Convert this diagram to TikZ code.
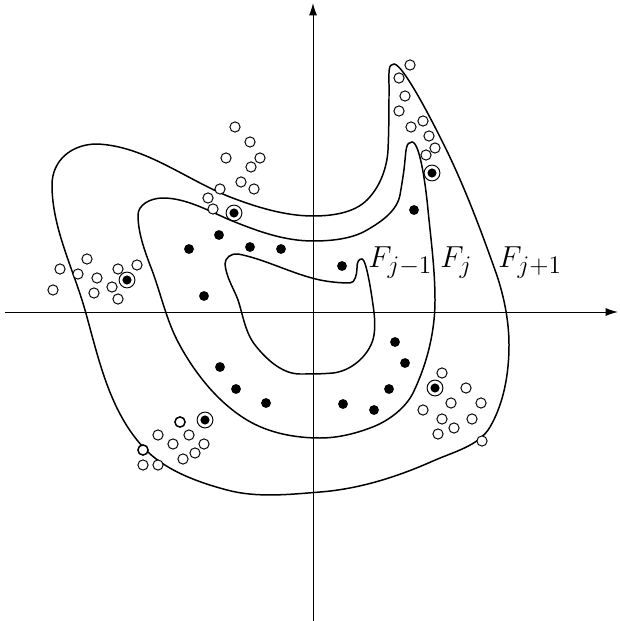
\documentclass[tikz,border=0pt]{standalone}
\usepackage{amsmath}
\usetikzlibrary{arrows.meta}

\tikzset{
  axisline/.style={line width=0.55pt, -{Latex[length=7pt,width=4.5pt]}},
  levelset/.style={line width=0.85pt},
  ring/.style={line width=0.55pt},
  lbl/.style={font=\fontsize{19}{22}\selectfont, inner sep=0pt, anchor=base west}
}

\begin{document}
\begin{tikzpicture}[x=0.02cm, y=-0.02cm]
      \useasboundingbox (0,0) rectangle (619,621);

      % Axes
      \draw[axisline] (5,312) -- (618,312);
      \draw[axisline] (313,621) -- (313,3);

      % Level set F_{j+1} (outer)
      \draw[levelset] (394,64) .. controls (402,64) and (427,111) .. (440,137)
        .. controls (462,180) and (479,225) .. (495,270)
        .. controls (503.5,293.5) and (509,320) .. (509,345)
        .. controls (509,373) and (504,403) .. (490,427)
        .. controls (479,446) and (453,452) .. (433,461)
        .. controls (397,477) and (359,489) .. (320,492)
        .. controls (289,494.5) and (257,498) .. (227,490)
        .. controls (197,482) and (164,470) .. (143,447)
        .. controls (109,410) and (98.5,358) .. (85,310)
        .. controls (73.4,269) and (52,228) .. (52,185)
        .. controls (52,160) and (72,144) .. (97,144)
        .. controls (145,146) and (185,179) .. (230,197)
        .. controls (256,207) and (285,216) .. (313,216)
        .. controls (332,216) and (354,213) .. (367,200)
        .. controls (380,187) and (387,168) .. (388,150)
        .. controls (389,128) and (389,107) .. (389,85)
        .. controls (389,72) and (388,64) .. (394,64) -- cycle;

      % Level set F_j (middle)
      \draw[levelset] (412,142) .. controls (420,142) and (426,188) .. (428,210)
        .. controls (431,240) and (435,270) .. (435,300)
        .. controls (435,332) and (427,364) .. (413,393)
        .. controls (405,409) and (387,422) .. (370,428)
        .. controls (354,434) and (337,438) .. (320,438)
        .. controls (295,438) and (268.5,433) .. (247,420)
        .. controls (217,402) and (193,371) .. (177,340)
        .. controls (165,316) and (160,290) .. (150,265)
        .. controls (144,249) and (138,232) .. (138,215)
        .. controls (138,205) and (150,198) .. (163,198)
        .. controls (186,198) and (209,211) .. (230,220)
        .. controls (257,231) and (284,241) .. (313,241)
        .. controls (331,241) and (352,239) .. (367,230)
        .. controls (381,222) and (397,211) .. (400,195)
        .. controls (402,183) and (404,172) .. (405,160)
        .. controls (406,150) and (406,142) .. (412,142) -- cycle;

      % Level set F_{j-1} (inner)
      \draw[levelset] (238,254) .. controls (265,259) and (292,274) .. (320,280)
        .. controls (330,282) and (340,283) .. (350,283)
        .. controls (355,283) and (357,274) .. (357,268)
        .. controls (357,261) and (359,259) .. (362,259)
        .. controls (366,259) and (371,290) .. (373,305)
        .. controls (374.5,315) and (375.5,325) .. (374,335)
        .. controls (371,354) and (352,371) .. (333,373)
        .. controls (322,374) and (311,374) .. (300,374)
        .. controls (282,374) and (266,359) .. (255,345)
        .. controls (245,332) and (243,315) .. (238,300)
        .. controls (234,289) and (226,277) .. (225,264)
        .. controls (225,258) and (231,253) .. (238,254) -- cycle;

      % Points inside
      \foreach \x/\y in {219/235, 189/249, 250/247, 281/249, 204/296, 342/266,
        414/210, 220/367, 236/389, 266/403, 395/342, 405/363, 389/389,
        343/404, 374/410}
        \fill (\x,\y) circle (2.8pt);

      % Points outside
      \foreach \x/\y in {410/65, 399/78, 405/96, 399/111, 423/121, 411/127,
        429/136, 435/148, 426/155,
        235/127, 250/142, 226/158, 260/158, 251/167, 241/182, 254/189,
        220/189, 208/198, 213/209,
        87/259, 60/269, 78/274, 97/278, 118/269, 137/265, 53/290, 94/293,
        112/287, 118/299,
        158/435, 189/435, 173/444, 204/444, 195/453, 183/459, 143/465, 158/465,
        442/373, 466/388, 451/403, 423/410, 481/403, 442/419, 472/419,
        454/428, 438/434, 482/441}
        \draw[ring, fill=white] (\x,\y) circle (2.9pt);
      \foreach \x/\y in {180/422, 143/450}
        \draw[line width=0.85pt, fill=white] (\x,\y) circle (2.9pt);

      % Points on the boundary
      \foreach \x/\y in {234/213, 432/173, 127/280, 205/420, 435/388} {
        \fill (\x,\y) circle (2.6pt);
        \draw[ring] (\x,\y) circle (4.5pt);
      }

      % Labels
      \node[lbl] (fjminus) at (368,267) {$F_{j-1}$};
      \node[lbl] (fj) at (440,267) {$F_j$};
      \node[lbl] (fjplus) at (498,267) {$F_{j+1}$};
\end{tikzpicture}
\end{document}
